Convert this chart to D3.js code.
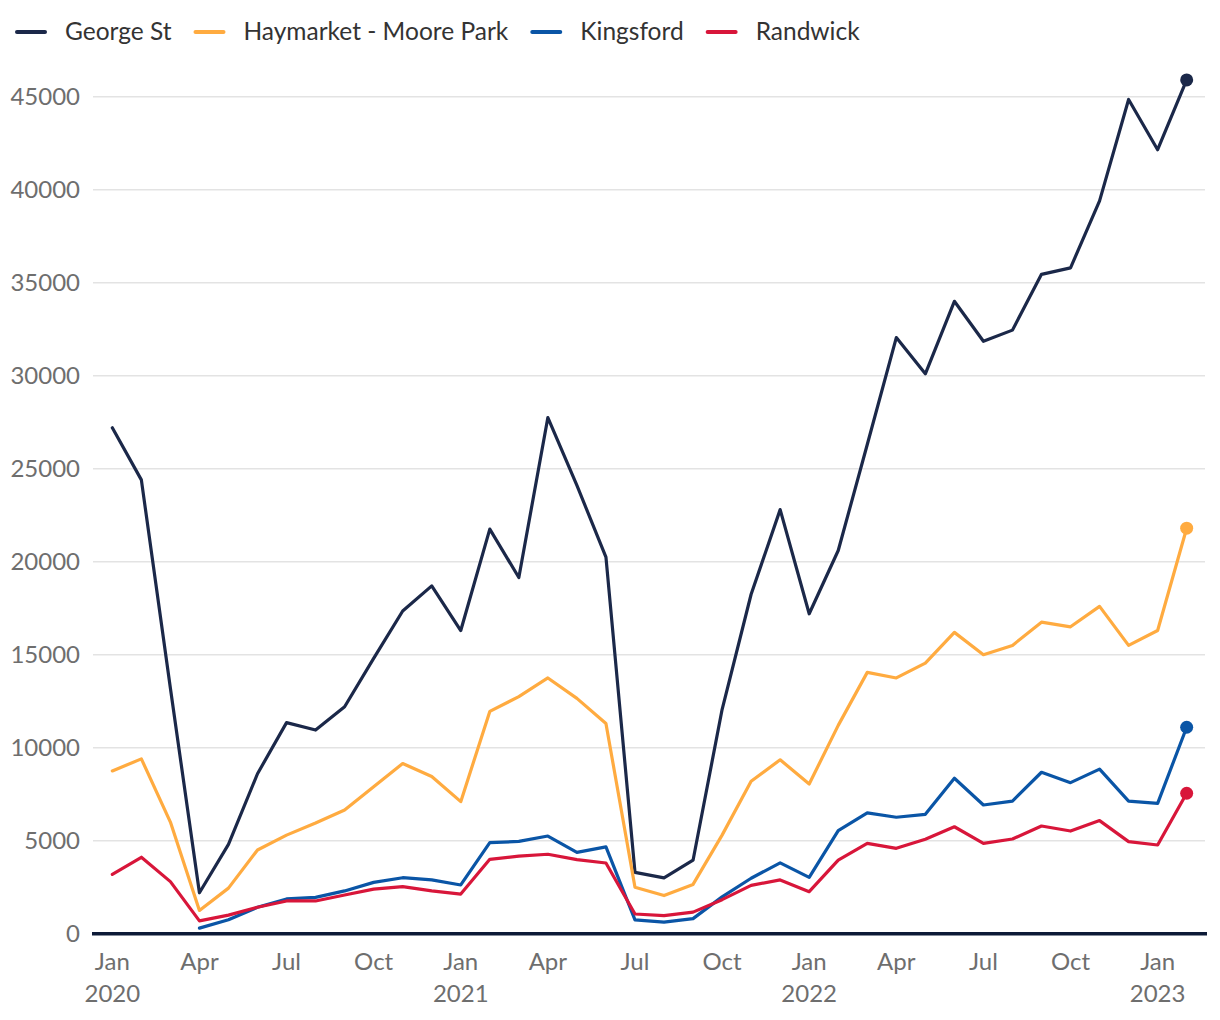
<!DOCTYPE html>
<html>
<head>
<meta charset="utf-8">
<script src="https://cdn.jsdelivr.net/npm/d3@7"></script>
<style>
  html, body { margin: 0; padding: 0; background: #ffffff; }
  svg { display: block; }
  text { font-family: Lato, "Open Sans", sans-serif; }
</style>
</head>
<body>
<svg id="chart" width="1220" height="1020"></svg>
<script>
// ---- Data (monthly, Jan 2020 – Feb 2023) ----
const months = [
  "2020-01","2020-02","2020-03","2020-04","2020-05","2020-06","2020-07","2020-08","2020-09","2020-10","2020-11","2020-12",
  "2021-01","2021-02","2021-03","2021-04","2021-05","2021-06","2021-07","2021-08","2021-09","2021-10","2021-11","2021-12",
  "2022-01","2022-02","2022-03","2022-04","2022-05","2022-06","2022-07","2022-08","2022-09","2022-10","2022-11","2022-12",
  "2023-01","2023-02"
];
const seriesNames = ["George St", "Haymarket - Moore Park", "Kingsford", "Randwick"];
const seriesColors = ["#1b2849", "#ffab40", "#0a55a6", "#d8163a"];

const georgeSt = [
  27200, 24400, 13200, 2200, 4800, 8600, 11350, 10950, 12200, 14800, 17350, 18700,
  16300, 21750, 19150, 27750, 24100, 20250, 3300, 3000, 3950, 12050, 18250, 22800,
  17200, 20600, 26300, 32050, 30100, 34000, 31850, 32450, 35450, 35800, 39400, 44850,
  42150, 45900
];
const haymarket = [
  8750, 9400, 6000, 1250, 2450, 4500, 5300, 5950, 6650, 7900, 9150, 8450,
  7100, 11950, 12750, 13750, 12650, 11300, 2500, 2050, 2650, 5300, 8200, 9350,
  8050, 11200, 14050, 13750, 14550, 16200, 15000, 15500, 16750, 16500, 17600, 15500,
  16300, 21800
];
const kingsford = [
  null, null, null, 300, 750, 1420, 1870, 1950, 2300, 2760, 3010, 2890,
  2620, 4900, 4960, 5250, 4370, 4670, 740, 620, 810, 1980, 2980, 3810,
  3030, 5540, 6500, 6260, 6420, 8360, 6920, 7130, 8680, 8120, 8850, 7130,
  7010, 11100
];
const randwick = [
  3190, 4110, 2800, 690, 1000, 1420, 1760, 1760, 2080, 2400, 2530, 2300,
  2130, 4000, 4170, 4270, 3980, 3800, 1060, 970, 1160, 1830, 2600, 2890,
  2260, 3960, 4860, 4590, 5080, 5750, 4860, 5090, 5790, 5520, 6080, 4950,
  4770, 7550
];

const yTicks = [0, 5000, 10000, 15000, 20000, 25000, 30000, 35000, 40000, 45000];
const xTickMonths = ["2020-01","2020-04","2020-07","2020-10","2021-01","2021-04","2021-07","2021-10","2022-01","2022-04","2022-07","2022-10","2023-01"];
const xTickLabels = ["Jan","Apr","Jul","Oct","Jan","Apr","Jul","Oct","Jan","Apr","Jul","Oct","Jan"];
const xYearLabels = ["2020","","","","2021","","","","2022","","","","2023"];

// ---- Layout ----
const svg = d3.select("#chart");
const plotLeft = 92, plotRight = 1207;
const yBase = 933.7, yTop = 96.7;

const x = d3.scaleLinear().domain([-0.7, months.length - 1 + 0.7]).range([plotLeft, plotRight]);
const y = d3.scaleLinear().domain([0, 45000]).range([yBase, yTop]);

const allSeries = [georgeSt, haymarket, kingsford, randwick];

// gridlines
svg.append("g").selectAll("line").data(yTicks.filter(d => d > 0)).join("line")
  .attr("x1", plotLeft + 1).attr("x2", plotRight - 2)
  .attr("y1", d => y(d)).attr("y2", d => y(d))
  .attr("stroke", "#e3e3e3").attr("stroke-width", 1.5);

// y labels
svg.append("g").selectAll("text").data(yTicks).join("text")
  .attr("x", 80).attr("y", d => y(d) + 8.5)
  .attr("text-anchor", "end")
  .attr("font-size", 24).attr("fill", "#6e6e6e")
  .text(d => String(d));

// lines
const line = d3.line()
  .defined(d => d != null)
  .x((d, i) => x(i))
  .y(d => y(d));

allSeries.forEach((s, k) => {
  svg.append("path")
    .datum(s)
    .attr("d", line)
    .attr("fill", "none")
    .attr("stroke", seriesColors[k])
    .attr("stroke-width", 3.2)
    .attr("stroke-linejoin", "round")
    .attr("stroke-linecap", "round");
});

// end dots
allSeries.forEach((s, k) => {
  const i = s.length - 1;
  svg.append("circle")
    .attr("cx", x(i)).attr("cy", y(s[i]))
    .attr("r", 6.5)
    .attr("fill", seriesColors[k]);
});

// x axis baseline
svg.append("line")
  .attr("x1", plotLeft).attr("x2", plotRight)
  .attr("y1", yBase).attr("y2", yBase)
  .attr("stroke", "#0c1a37").attr("stroke-width", 3.5);

// x labels
const xg = svg.append("g");
xTickMonths.forEach((m, j) => {
  const i = months.indexOf(m);
  xg.append("text")
    .attr("x", x(i)).attr("y", 970)
    .attr("text-anchor", "middle")
    .attr("font-size", 24).attr("fill", "#6e6e6e")
    .text(xTickLabels[j]);
  if (xYearLabels[j]) {
    xg.append("text")
      .attr("x", x(i)).attr("y", 1002)
      .attr("text-anchor", "middle")
      .attr("font-size", 24).attr("fill", "#6e6e6e")
      .text(xYearLabels[j]);
  }
});

// legend
const lg = svg.append("g");
let lx = 15;
seriesNames.forEach((name, k) => {
  lg.append("line")
    .attr("x1", lx + 2).attr("x2", lx + 30)
    .attr("y1", 32).attr("y2", 32)
    .attr("stroke", seriesColors[k]).attr("stroke-width", 4)
    .attr("stroke-linecap", "round");
  const t = lg.append("text")
    .attr("x", lx + 50).attr("y", 40)
    .attr("font-size", 24.5).attr("fill", "#333333")
    .text(name);
  const w = t.node().getComputedTextLength();
  lx = lx + 50 + w + 22;
});
</script>
</body>
</html>
